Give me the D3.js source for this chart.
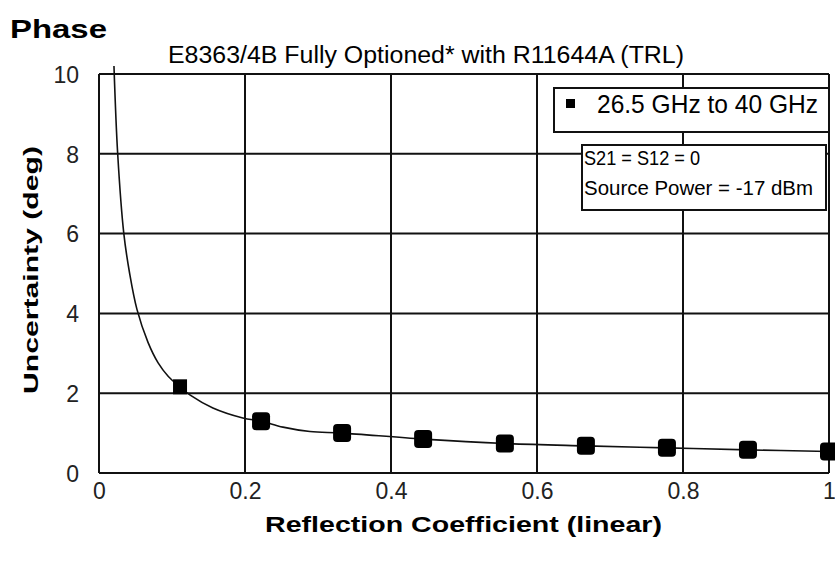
<!DOCTYPE html>
<html><head><meta charset="utf-8">
<script src="https://cdn.jsdelivr.net/npm/d3@7"></script>
<style>body{margin:0;background:#fff}svg{display:block}text{font-family:"Liberation Sans",Arial,sans-serif}</style>
</head><body><svg id="c" width="835" height="565"></svg>
<script>
// ---- data ----
const title = "Phase";
const subtitle = "E8363/4B Fully Optioned* with R11644A (TRL)";
const xLabel = "Reflection Coefficient (linear)";
const yLabel = "Uncertainty (deg)";
const xTicks = [0, 0.2, 0.4, 0.6, 0.8, 1];
const xTickLabels = ["0", "0.2", "0.4", "0.6", "0.8", "1"];
const yTicks = [0, 2, 4, 6, 8, 10];
const yTickLabels = ["0", "2", "4", "6", "8", "10"];
const markerX = [0.111, 0.222, 0.333, 0.444, 0.556, 0.667, 0.778, 0.889, 1.0];
const markerY = [2.16, 1.30, 1.00, 0.85, 0.74, 0.68, 0.63, 0.58, 0.54];
const curveX = [0.0205, 0.0256, 0.034, 0.042, 0.052, 0.067, 0.081, 0.095, 0.111, 0.125, 0.156, 0.197, 0.222, 0.252, 0.289, 0.333, 0.444, 0.556, 0.667, 0.778, 0.889, 1.0];
const curveY = [10.2, 8.0, 6.0, 5.0, 4.1, 3.28, 2.76, 2.42, 2.16, 1.95, 1.63, 1.38, 1.30, 1.15, 1.04, 1.00, 0.85, 0.74, 0.68, 0.63, 0.58, 0.54];
const legendLabel = "26.5 GHz to 40 GHz";
const noteLines = ["S21 = S12 = 0", "Source Power = -17 dBm"];

// ---- layout ----
const svg = d3.select("#c");
const L = 99, R = 829, T = 74, B = 473;
const x = d3.scaleLinear().domain([0, 1]).range([L, R]);
const y = d3.scaleLinear().domain([0, 10]).range([B, T]);

// grid
const g = svg.append("g");
g.selectAll(".vx").data(xTicks).join("line")
  .attr("x1", d => x(d)).attr("x2", d => x(d)).attr("y1", T).attr("y2", B)
  .attr("stroke", "#111").attr("stroke-width", 2);
g.selectAll(".hy").data(yTicks).join("line")
  .attr("y1", d => y(d)).attr("y2", d => y(d)).attr("x1", L).attr("x2", R)
  .attr("stroke", "#111").attr("stroke-width", 2);

// axes (labels only)
const xa = svg.append("g").attr("transform", `translate(0,${B})`)
  .call(d3.axisBottom(x).tickValues(xTicks).tickFormat((d, i) => xTickLabels[i]).tickSize(0).tickPadding(9));
xa.select(".domain").remove();
xa.selectAll("text").attr("font-size", 23).attr("fill", "#222").attr("font-family", "Liberation Sans").attr("dy", "0.72em");
const ya = svg.append("g").attr("transform", `translate(${L},0)`)
  .call(d3.axisLeft(y).tickValues(yTicks).tickFormat((d, i) => yTickLabels[i]).tickSize(0).tickPadding(20));
ya.select(".domain").remove();
ya.selectAll("text").attr("font-size", 23).attr("fill", "#222").attr("font-family", "Liberation Sans").attr("dy", "0.36em");

// curve
const pts = curveX.map((d, i) => [d, curveY[i]]);
svg.append("path").datum(pts)
  .attr("d", d3.line().x(d => x(d[0])).y(d => y(d[1])).curve(d3.curveCatmullRom.alpha(0.5)))
  .attr("fill", "none").attr("stroke", "#111").attr("stroke-width", 1.6);

// markers
const mk = markerX.map((d, i) => [d, markerY[i]]);
svg.selectAll(".m").data(mk).join("rect")
  .attr("x", (d, i) => x(d[0]) - (i === 0 ? 7 : 9))
  .attr("y", (d, i) => y(d[1]) - (i === 0 ? 7.5 : 9))
  .attr("width", (d, i) => i === 0 ? 14 : 18)
  .attr("height", (d, i) => i === 0 ? 15 : 18)
  .attr("rx", (d, i) => i === 0 ? 0 : 4)
  .attr("fill", "#000");

// legend box
svg.append("rect").attr("x", 554).attr("y", 88).attr("width", 275).attr("height", 44)
  .attr("fill", "#fff").attr("stroke", "#111").attr("stroke-width", 2);
svg.append("rect").attr("x", 566).attr("y", 99).attr("width", 9).attr("height", 9).attr("fill", "#000");
svg.append("text").attr("x", 597).attr("y", 113).attr("font-size", 25)
  .attr("textLength", 221).attr("lengthAdjust", "spacingAndGlyphs").text(legendLabel);

// note box
svg.append("rect").attr("x", 582).attr("y", 145).attr("width", 244).attr("height", 65)
  .attr("fill", "#fff").attr("stroke", "#111").attr("stroke-width", 2);
svg.append("text").attr("x", 584).attr("y", 165).attr("font-size", 20)
  .attr("textLength", 116).attr("lengthAdjust", "spacingAndGlyphs").text(noteLines[0]);
svg.append("text").attr("x", 584).attr("y", 195).attr("font-size", 20)
  .attr("textLength", 229).attr("lengthAdjust", "spacingAndGlyphs").text(noteLines[1]);

// titles
svg.append("text").attr("x", 10).attr("y", 38).attr("font-size", 25).attr("font-weight", "bold")
  .attr("textLength", 97).attr("lengthAdjust", "spacingAndGlyphs").text(title);
svg.append("text").attr("x", 168).attr("y", 63).attr("font-size", 23)
  .attr("textLength", 516).attr("lengthAdjust", "spacingAndGlyphs").text(subtitle);
svg.append("text").attr("x", 265).attr("y", 532).attr("font-size", 22).attr("font-weight", "bold")
  .attr("textLength", 397).attr("lengthAdjust", "spacingAndGlyphs").text(xLabel);
svg.append("text").attr("transform", "translate(38,270) rotate(-90)").attr("text-anchor", "middle")
  .attr("font-size", 21).attr("font-weight", "bold")
  .attr("textLength", 248).attr("lengthAdjust", "spacingAndGlyphs").text(yLabel);
</script></body></html>
